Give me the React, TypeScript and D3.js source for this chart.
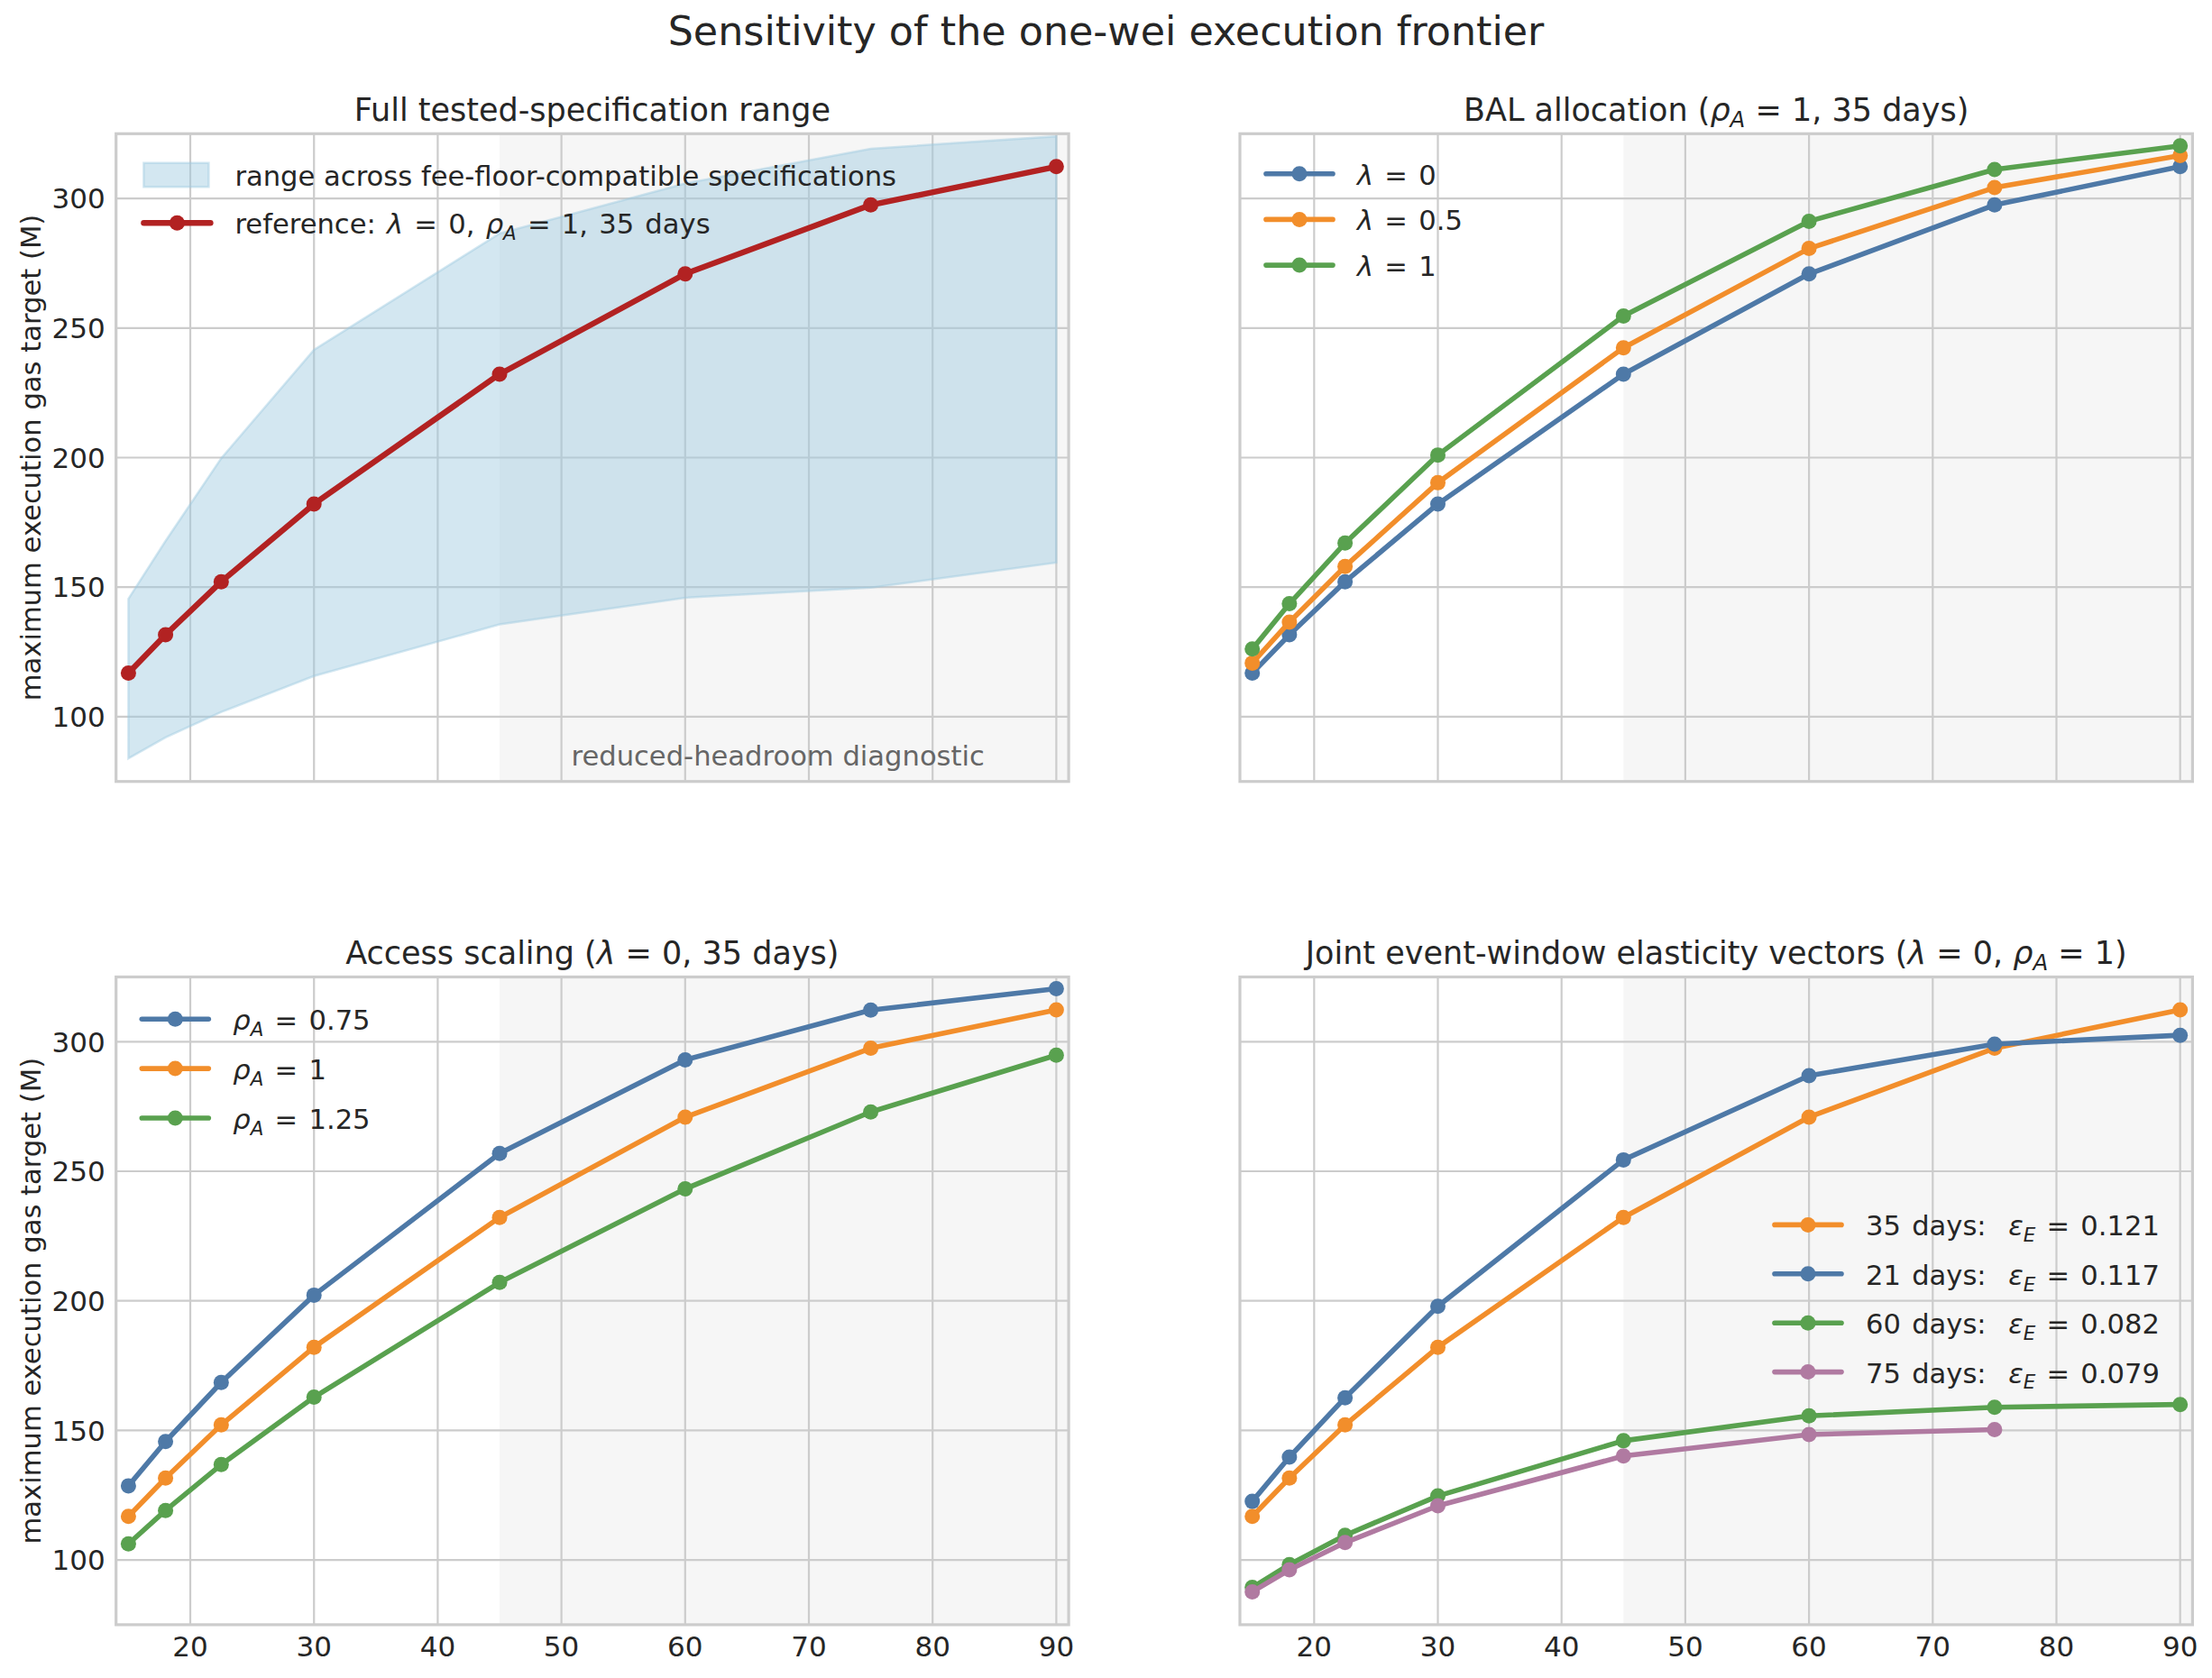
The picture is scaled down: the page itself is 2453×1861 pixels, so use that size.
import * as d3 from "d3";

// x axis: event window length (days)
const WINDOW_DAYS = [15, 18, 22.5, 30, 45, 60, 75, 90];
const X_TICKS = [20, 30, 40, 50, 60, 70, 80, 90];
const Y_TICKS = [100, 150, 200, 250, 300];
const SHADE_FROM = 45;

// reference frontier: lambda = 0, rho_A = 1, 35 days
const REFERENCE = [116.8, 131.6, 152.1, 182.1, 232.2, 270.9, 297.5, 312.3];
// envelope across fee-floor-compatible specifications
const RANGE_LOW = [83.9, 92.0, 101.8, 115.7, 135.6, 145.9, 149.8, 159.5];
const RANGE_HIGH = [145.5, 167.8, 199.7, 241.6, 286.5, 305.8, 319.2, 324.0];

// BAL allocation
const LAMBDA_HALF = [120.7, 136.5, 158.0, 190.3, 242.4, 280.7, 304.2, 316.6];
const LAMBDA_ONE = [126.1, 143.6, 167.0, 201.0, 254.6, 291.2, 311.2, 320.3];

// access scaling
const RHO_075 = [128.6, 145.7, 168.5, 202.2, 256.9, 293.0, 312.2, 320.5];
const RHO_125 = [106.2, 119.1, 136.8, 162.8, 207.1, 243.2, 272.9, 294.8];

// joint event-window elasticity vectors
const WIN_21 = [122.6, 139.7, 162.6, 197.9, 254.4, 286.9, 299.1, 302.5];
const WIN_60 = [89.4, 98.2, 109.5, 124.7, 146.0, 155.6, 158.9, 160.0];
const WIN_75 = [87.7, 96.2, 106.7, 120.9, 140.1, 148.4, 150.3];

const BLUE = "#4e79a7";
const ORANGE = "#f28e2b";
const GREEN = "#59a14f";
const PURPLE = "#b07aa1";
const RED = "#b22222";
const TEXT = "#262626";
const GRID = "#cccccc";

const FONT = "DejaVu Sans";
const FS_TICK = 31;
const FS_LEGEND = 30.6;
const FS_TITLE = 35;
const FS_SUPTITLE = 44.4;

const W = 2453;
const H = 1861;
const AX_W = 1056.4;
const AX_H = 718.4;
const COL_X = [128.7, 1375];
const ROW_Y = [148.3, 1083.5];

type Seg = { t: string; it?: boolean; sub?: boolean };
const rm = (t: string): Seg => ({ t });
const it = (t: string): Seg => ({ t, it: true });
const sub = (t: string): Seg => ({ t, it: true, sub: true });

type Series = { values: number[]; color: string; width: number; label: Seg[] };

function Rich({ segs, size }: { segs: Seg[]; size: number }) {
  const shift = size * 0.22;
  let down = false;
  return (
    <>
      {segs.map((s, i) => {
        let dy = 0;
        if (s.sub && !down) {
          dy = shift;
          down = true;
        } else if (!s.sub && down) {
          dy = -shift;
          down = false;
        }
        return (
          <tspan
            key={i}
            dy={dy || undefined}
            fontStyle={s.it ? "italic" : "normal"}
            fontSize={s.sub ? size * 0.7 : size}
          >
            {s.t}
          </tspan>
        );
      })}
    </>
  );
}

type LegendCfg = {
  dx: number;
  dy: number;
  row: number;
  patch?: { label: string };
};

function Panel({
  left,
  top,
  title,
  series,
  band,
  showX,
  showY,
  legend,
  note,
}: {
  left: number;
  top: number;
  title: Seg[];
  series: Series[];
  band?: boolean;
  showX: boolean;
  showY: boolean;
  legend: LegendCfg;
  note?: string;
}) {
  const x = d3.scaleLinear().domain([14, 91]).range([0, AX_W]);
  const y = d3.scaleLinear().domain([75, 325]).range([AX_H, 0]);
  const line = d3
    .line<number>()
    .x((_, i) => x(WINDOW_DAYS[i]))
    .y((d) => y(d));
  const area = d3
    .area<number>()
    .x((_, i) => x(WINDOW_DAYS[i]))
    .y0((_, i) => y(RANGE_LOW[i]))
    .y1((d) => y(d));

  const legendRows: { kind: "patch" | "line"; color: string; width: number; label: Seg[] }[] = [];
  if (legend.patch) legendRows.push({ kind: "patch", color: "#9ecae1", width: 0, label: [rm(legend.patch.label)] });
  series.forEach((s) => legendRows.push({ kind: "line", color: s.color, width: s.width, label: s.label }));

  return (
    <g transform={`translate(${left},${top})`}>
      <rect x={x(SHADE_FROM)} y={0} width={AX_W - x(SHADE_FROM)} height={AX_H} fill="#f6f6f6" />
      {/* grid */}
      {X_TICKS.map((t) => (
        <line key={`gx${t}`} x1={x(t)} x2={x(t)} y1={0} y2={AX_H} stroke={GRID} strokeWidth={2.2} />
      ))}
      {Y_TICKS.map((t) => (
        <line key={`gy${t}`} x1={0} x2={AX_W} y1={y(t)} y2={y(t)} stroke={GRID} strokeWidth={2.2} />
      ))}
      {band && (
        <path
          d={area(RANGE_HIGH) ?? ""}
          fill="#9ecae1"
          fillOpacity={0.45}
          stroke="#9ecae1"
          strokeOpacity={0.45}
          strokeWidth={2.5}
        />
      )}
      {note && (
        <text
          x={x(67.5)}
          y={AX_H - 18}
          textAnchor="middle"
          fontSize={FS_LEGEND}
          fill="#666666"
          fontFamily={FONT}
        >
          {note}
        </text>
      )}
      {series.map((s, k) => (
        <g key={k}>
          <path d={line(s.values) ?? ""} fill="none" stroke={s.color} strokeWidth={s.width} strokeLinejoin="round" />
          {s.values.map((v, i) => (
            <circle key={i} cx={x(WINDOW_DAYS[i])} cy={y(v)} r={8.5} fill={s.color} />
          ))}
        </g>
      ))}
      {/* spines */}
      <rect x={0} y={0} width={AX_W} height={AX_H} fill="none" stroke={GRID} strokeWidth={3.2} />
      {showY &&
        Y_TICKS.map((t) => (
          <text
            key={`ty${t}`}
            x={-12}
            y={y(t) + 11.3}
            textAnchor="end"
            fontSize={FS_TICK}
            fill={TEXT}
            fontFamily={FONT}
          >
            {t}
          </text>
        ))}
      {showX &&
        X_TICKS.map((t) => (
          <text
            key={`tx${t}`}
            x={x(t)}
            y={AX_H + 34.9}
            textAnchor="middle"
            fontSize={FS_TICK}
            fill={TEXT}
            fontFamily={FONT}
          >
            {t}
          </text>
        ))}
      {showY && (
        <text
          transform={`translate(${44.5 - left},${AX_H / 2}) rotate(-90)`}
          textAnchor="middle"
          fontSize={FS_LEGEND}
          fill={TEXT}
          fontFamily={FONT}
        >
          maximum execution gas target (M)
        </text>
      )}
      <text
        x={AX_W / 2}
        y={-14.8}
        textAnchor="middle"
        fontSize={FS_TITLE}
        fill={TEXT}
        fontFamily={FONT}
        style={{ whiteSpace: "pre" }}
      >
        <Rich segs={title} size={FS_TITLE} />
      </text>
      {/* legend */}
      <g transform={`translate(${legend.dx},${legend.dy})`}>
        {legendRows.map((r, i) => {
          const cy = i * legend.row;
          const hasMath = r.label.some((s) => s.it);
          return (
            <g key={i}>
              {r.kind === "patch" ? (
                <rect
                  x={0}
                  y={cy - 13.3}
                  width={72}
                  height={26.6}
                  fill="#9ecae1"
                  fillOpacity={0.45}
                  stroke="#9ecae1"
                  strokeOpacity={0.45}
                  strokeWidth={2.5}
                />
              ) : (
                <>
                  <line x1={0} x2={74} y1={cy} y2={cy} stroke={r.color} strokeWidth={r.width} strokeLinecap="round" />
                  <circle cx={37} cy={cy} r={8.5} fill={r.color} />
                </>
              )}
              <text
                x={101}
                y={cy + 12}
                fontSize={FS_LEGEND}
                fill={TEXT}
                fontFamily={FONT}
                style={{ whiteSpace: "pre", wordSpacing: hasMath ? "2.5px" : undefined }}
              >
                <Rich segs={r.label} size={FS_LEGEND} />
              </text>
            </g>
          );
        })}
      </g>
    </g>
  );
}

export default function App() {
  return (
    <svg
      width={W}
      height={H}
      viewBox={`0 0 ${W} ${H}`}
      style={{ position: "absolute", left: 0, top: 0, background: "#ffffff" }}
      fontFamily={FONT}
    >
      <rect x={0} y={0} width={W} height={H} fill="#ffffff" />
      <text x={W / 2} y={50} textAnchor="middle" fontSize={FS_SUPTITLE} fill={TEXT} fontFamily={FONT}>
        Sensitivity of the one-wei execution frontier
      </text>
      <Panel
        left={COL_X[0]}
        top={ROW_Y[0]}
        title={[rm("Full tested-specification range")]}
        band
        showX={false}
        showY
        note="reduced-headroom diagnostic"
        legend={{ dx: 30.7, dy: 45.7, row: 53.3, patch: { label: "range across fee-floor-compatible specifications" } }}
        series={[
          {
            values: REFERENCE,
            color: RED,
            width: 6.4,
            label: [rm("reference: "), it("λ"), rm(" = 0, "), it("ρ"), sub("A"), rm(" = 1, 35 days")],
          },
        ]}
      />
      <Panel
        left={COL_X[1]}
        top={ROW_Y[0]}
        title={[rm("BAL allocation ("), it("ρ"), sub("A"), rm(" = 1, 35 days)")]}
        showX={false}
        showY={false}
        legend={{ dx: 29, dy: 44.4, row: 50.7 }}
        series={[
          { values: REFERENCE, color: BLUE, width: 5.6, label: [it("λ"), rm(" = 0")] },
          { values: LAMBDA_HALF, color: ORANGE, width: 5.6, label: [it("λ"), rm(" = 0.5")] },
          { values: LAMBDA_ONE, color: GREEN, width: 5.6, label: [it("λ"), rm(" = 1")] },
        ]}
      />
      <Panel
        left={COL_X[0]}
        top={ROW_Y[1]}
        title={[rm("Access scaling ("), it("λ"), rm(" = 0, 35 days)")]}
        showX
        showY
        legend={{ dx: 28.6, dy: 46.7, row: 54.9 }}
        series={[
          { values: RHO_075, color: BLUE, width: 5.6, label: [it("ρ"), sub("A"), rm(" = 0.75")] },
          { values: REFERENCE, color: ORANGE, width: 5.6, label: [it("ρ"), sub("A"), rm(" = 1")] },
          { values: RHO_125, color: GREEN, width: 5.6, label: [it("ρ"), sub("A"), rm(" = 1.25")] },
        ]}
      />
      <Panel
        left={COL_X[1]}
        top={ROW_Y[1]}
        title={[rm("Joint event-window elasticity vectors ("), it("λ"), rm(" = 0, "), it("ρ"), sub("A"), rm(" = 1)")]}
        showX
        showY={false}
        legend={{ dx: 593, dy: 274.9, row: 54.4 }}
        series={[
          { values: REFERENCE, color: ORANGE, width: 5.6, label: [rm("35 days:  "), it("ε"), sub("E"), rm(" = 0.121")] },
          { values: WIN_21, color: BLUE, width: 5.6, label: [rm("21 days:  "), it("ε"), sub("E"), rm(" = 0.117")] },
          { values: WIN_60, color: GREEN, width: 5.6, label: [rm("60 days:  "), it("ε"), sub("E"), rm(" = 0.082")] },
          { values: WIN_75, color: PURPLE, width: 5.6, label: [rm("75 days:  "), it("ε"), sub("E"), rm(" = 0.079")] },
        ]}
      />
    </svg>
  );
}
